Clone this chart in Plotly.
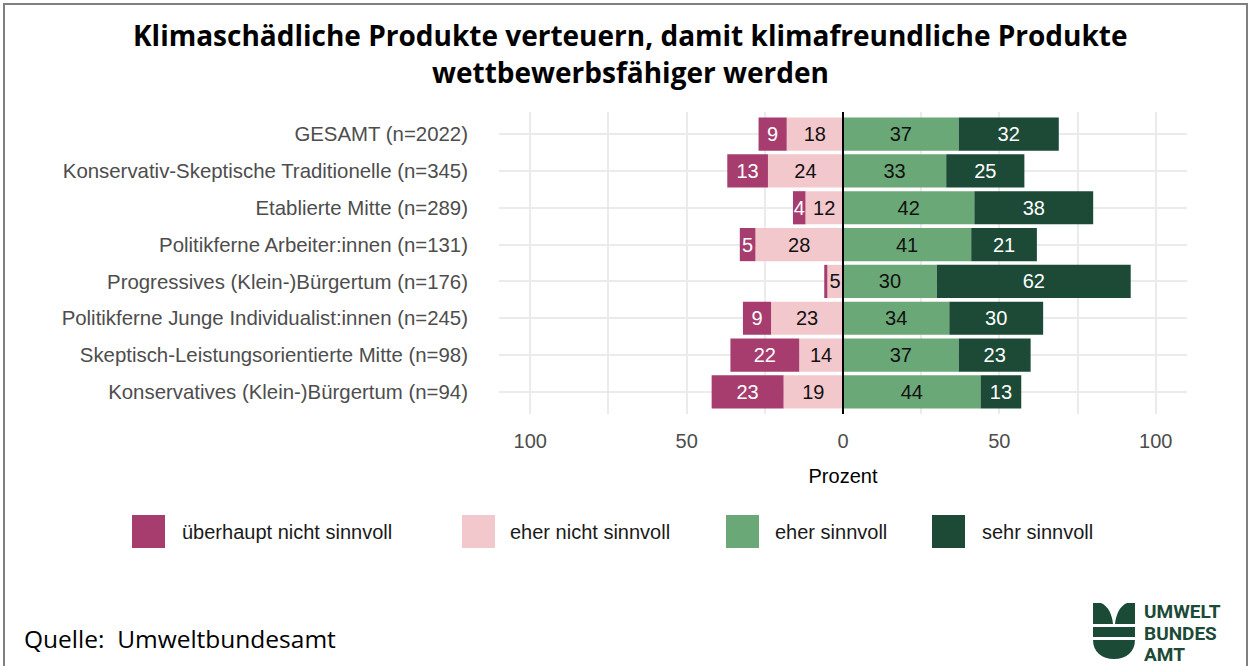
import plotly.graph_objects as go

# ---------------- data ----------------
categories = [
    "GESAMT (n=2022)",
    "Konservativ-Skeptische Traditionelle (n=345)",
    "Etablierte Mitte (n=289)",
    "Politikferne Arbeiter:innen (n=131)",
    "Progressives (Klein-)Bürgertum (n=176)",
    "Politikferne Junge Individualist:innen (n=245)",
    "Skeptisch-Leistungsorientierte Mitte (n=98)",
    "Konservatives (Klein-)Bürgertum (n=94)",
]
ueberhaupt_nicht = [9, 13, 4, 5, 1, 9, 22, 23]
eher_nicht = [18, 24, 12, 28, 5, 23, 14, 19]
eher_sinnvoll = [37, 33, 42, 41, 30, 34, 37, 44]
sehr_sinnvoll = [32, 25, 38, 21, 62, 30, 23, 13]

series_names = ["überhaupt nicht sinnvoll", "eher nicht sinnvoll", "eher sinnvoll", "sehr sinnvoll"]
tick_vals = [-100, -50, 0, 50, 100]
tick_text = ["100", "50", "0", "50", "100"]
minor_vals = [-75, -25, 25, 75]

title_lines = ["Klimaschädliche Produkte verteuern, damit klimafreundliche Produkte",
               "wettbewerbsfähiger werden"]
x_title = "Prozent"
source_text = "Quelle:\u00a0 Umweltbundesamt"
logo_words = ["UMWELT", "BUNDES", "AMT"]

# ---------------- style ----------------
colors = ["#A63D6E", "#F3C8CD", "#6BA877", "#1C4A36"]
text_colors = ["white", "#111111", "#111111", "white"]
LOGO = "#1B4B36"
SANS = "Liberation Sans, Arial, sans-serif"
OPEN = "Open Sans, Noto Sans, sans-serif"

W_FIG, H_FIG = 1250, 666
L, R, T, B = 499, 1187, 112, 414
PW, PH = R - L, B - T


def px(x):
    return (x - L) / PW


def py(y):
    return (B - y) / PH


def labels(vals):
    return [str(v) if v >= 3 else "" for v in vals]


fig = go.Figure()

# negative side: segment closest to zero first
neg_series = [(1, eher_nicht), (0, ueberhaupt_nicht)]
pos_series = [(2, eher_sinnvoll), (3, sehr_sinnvoll)]


def add_bar(idx, vals, sign):
    fig.add_trace(go.Bar(
        y=categories, x=[sign * v for v in vals], orientation="h",
        name=series_names[idx], marker=dict(color=colors[idx], line=dict(width=0)),
        text=labels(vals), textposition="inside", insidetextanchor="middle",
        textangle=0, constraintext="none",
        textfont=dict(family=SANS, size=20, color=text_colors[idx]),
        showlegend=False, hoverinfo="skip",
    ))


for idx, vals in neg_series:
    add_bar(idx, vals, -1)
for idx, vals in pos_series:
    add_bar(idx, vals, 1)

shapes = []
annotations = []

# zero line on top of bars
shapes.append(dict(type="line", xref="x", yref="paper", x0=0, x1=0, y0=0, y1=1,
                   line=dict(color="black", width=2), layer="above"))

# outer frame
shapes.append(dict(type="rect", xref="paper", yref="paper",
                   x0=px(4), x1=px(1247), y0=py(4), y1=py(667),
                   line=dict(color="#808080", width=2), fillcolor="rgba(0,0,0,0)", layer="above"))

# title
for line, yc in zip(title_lines, [35, 72]):
    annotations.append(dict(text=f"<b>{line}</b>", xref="paper", yref="paper",
                            x=px(630), y=py(yc), xanchor="center", yanchor="middle",
                            showarrow=False, font=dict(family=OPEN, size=28, color="black")))

# manual legend
sq_x = [132, 462, 726, 932]
txt_x = [180, 508, 773, 980]
for i in range(4):
    shapes.append(dict(type="rect", xref="paper", yref="paper",
                       x0=px(sq_x[i]), x1=px(sq_x[i] + 33), y0=py(515), y1=py(548),
                       fillcolor=colors[i], line=dict(width=0)))
    annotations.append(dict(text=series_names[i], xref="paper", yref="paper",
                            x=px(txt_x[i]), y=py(532), xanchor="left", yanchor="middle",
                            showarrow=False, font=dict(family=SANS, size=20, color="#1A1A1A")))

# source
annotations.append(dict(text=source_text, xref="paper", yref="paper",
                        x=px(22), y=py(638), xanchor="left", yanchor="middle",
                        showarrow=False, font=dict(family=OPEN, size=24.5, color="black")))


# logo symbol
def P(x, y):
    return f"{px(x):.5f},{py(y):.5f}"


left_leaf = f"M {P(1093,603)} L {P(1101,603)} C {P(1108,606)} {P(1112,614)} {P(1113,624)} L {P(1093,624)} Z"
right_leaf = f"M {P(1135,603)} L {P(1127,603)} C {P(1120,606)} {P(1116,614)} {P(1115,624)} L {P(1135,624)} Z"
band = f"M {P(1093,627)} L {P(1135,627)} L {P(1135,637)} L {P(1093,637)} Z"
bowl = (f"M {P(1093,640)} L {P(1135,640)} C {P(1135,652)} {P(1126,659)} {P(1114,659)} "
        f"C {P(1102,659)} {P(1093,652)} {P(1093,640)} Z")
for pth in [left_leaf, right_leaf, band, bowl]:
    shapes.append(dict(type="path", xref="paper", yref="paper", path=pth,
                       fillcolor=LOGO, line=dict(width=0)))

for word, yc in zip(logo_words, [611, 633, 654]):
    annotations.append(dict(text=f"<b>{word}</b>", xref="paper", yref="paper",
                            x=px(1142), y=py(yc), xanchor="left", yanchor="middle",
                            showarrow=False, font=dict(family="Roboto, sans-serif", size=19, color=LOGO)))

fig.update_layout(
    width=W_FIG, height=H_FIG,
    margin=dict(l=L, r=W_FIG - R, t=T, b=H_FIG - B, pad=0),
    paper_bgcolor="white", plot_bgcolor="white",
    barmode="relative", bargap=0.1,
    showlegend=False,
    shapes=shapes, annotations=annotations,
    xaxis=dict(
        range=[-110, 110], tickmode="array", tickvals=tick_vals, ticktext=tick_text,
        showgrid=True, gridcolor="#EBEBEB", gridwidth=1.5, zeroline=False,
        minor=dict(tickmode="array", tickvals=minor_vals, showgrid=True,
                   gridcolor="#EBEBEB", gridwidth=1.5),
        ticks="", ticklabelstandoff=13,
        tickfont=dict(family=SANS, size=20, color="#4D4D4D"),
        title=dict(text=x_title, standoff=17, font=dict(family=SANS, size=20, color="black")),
        showline=False, fixedrange=True,
    ),
    yaxis=dict(
        categoryorder="array", categoryarray=categories,
        range=[7.6, -0.6], showgrid=True, gridcolor="#EBEBEB", gridwidth=1.5,
        ticks="", ticklabelstandoff=30,
        tickfont=dict(family=SANS, size=20.4, color="#4D4D4D"),
        showline=False, zeroline=False, fixedrange=True,
    ),
)

fig.write_html("out.html", config={"displayModeBar": False},
               post_script="document.body.style.margin='0';")
